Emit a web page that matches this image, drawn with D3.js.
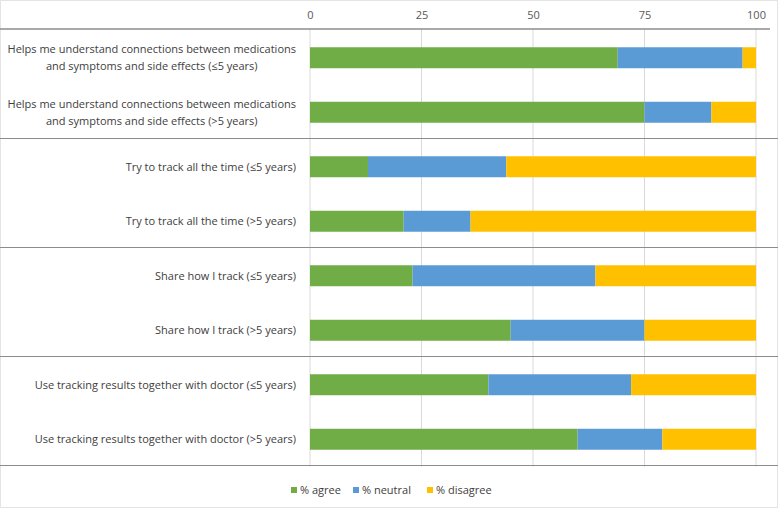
<!DOCTYPE html>
<html>
<head>
<meta charset="utf-8">
<script src="https://cdn.jsdelivr.net/npm/d3@7"></script>
<style>
  body { margin: 0; background: #fff; }
  text { font-family: "Open Sans", sans-serif; }
</style>
</head>
<body>
<div id="chart"></div>
<script>
// rows, top to bottom
const categories = [
  "Helps me understand connections between medications|and symptoms and side effects (≤5 years)",
  "Helps me understand connections between medications|and symptoms and side effects (>5 years)",
  "Try to track all the time (≤5 years)",
  "Try to track all the time (>5 years)",
  "Share how I track (≤5 years)",
  "Share how I track (>5 years)",
  "Use tracking results together with doctor (≤5 years)",
  "Use tracking results together with doctor (>5 years)"
];
const agree    = [69, 75, 13, 21, 23, 45, 40, 60];
const neutral  = [28, 15, 31, 15, 41, 30, 32, 19];
const disagree = [3, 10, 56, 64, 36, 25, 28, 21];
const seriesNames = ["% agree", "% neutral", "% disagree"];
const tickValues = [0, 25, 50, 75, 100];

const colors = ["#70ad47", "#5b9bd5", "#ffc000"];

const width = 778, height = 508;
const margin = {top: 30.5, right: 22, bottom: 41.5, left: 310};
const axisY = 29;

const svg = d3.select("#chart").append("svg")
    .attr("width", width)
    .attr("height", height);

svg.append("rect")
    .attr("x", 0.5).attr("y", 0.5)
    .attr("width", width - 1).attr("height", height - 1)
    .attr("fill", "#fff")
    .attr("stroke", "#e4e4e4");

const x = d3.scaleLinear()
    .domain([0, 100])
    .range([margin.left, width - margin.right]);

const y = d3.scaleBand()
    .domain(categories)
    .range([margin.top, height - margin.bottom])
    .paddingInner(0.615)
    .paddingOuter(0.3075);

// gridlines
svg.append("g")
  .selectAll("line")
  .data(tickValues)
  .join("line")
    .attr("x1", d => x(d)).attr("x2", d => x(d))
    .attr("y1", axisY).attr("y2", height - margin.bottom)
    .attr("stroke", "#d9d9d9")
    .attr("stroke-width", 1);

// top axis
svg.append("g")
    .attr("transform", `translate(0,${axisY})`)
    .call(d3.axisTop(x).tickValues(tickValues).tickSize(0).tickPadding(10))
    .call(g => g.select(".domain").remove())
    .call(g => g.selectAll(".tick text")
      .attr("fill", "#595959")
      .attr("font-size", 11)
      .style("font-family", "'Open Sans', sans-serif"));

svg.append("line")
    .attr("x1", 0).attr("x2", width - 8)
    .attr("y1", axisY).attr("y2", axisY)
    .attr("stroke", "#8c8c8c")
    .attr("stroke-width", 1.5);

// stacked bars
const stackData = categories.map((c, i) => ({cat: c, 0: agree[i], 1: neutral[i], 2: disagree[i]}));
const series = d3.stack().keys([0, 1, 2])(stackData);

svg.append("g")
  .selectAll("g")
  .data(series)
  .join("g")
    .attr("fill", (d, i) => colors[i])
  .selectAll("rect")
  .data(d => d)
  .join("rect")
    .attr("x", d => x(d[0]))
    .attr("width", d => x(d[1]) - x(d[0]))
    .attr("y", d => y(d.data.cat))
    .attr("height", y.bandwidth());

// group separators, every two rows
const step = y.step();
const groupLines = [2, 4, 6, 8].map(i => margin.top + i * step - 1);
svg.append("g")
  .selectAll("line")
  .data(groupLines)
  .join("line")
    .attr("x1", 0).attr("x2", width)
    .attr("y1", d => d).attr("y2", d => d)
    .attr("stroke", "#8c8c8c")
    .attr("stroke-width", 1.2);

// category labels
const labelRight = 296;
const labels = svg.append("g")
  .selectAll("text")
  .data(categories)
  .join("text")
    .attr("fill", "#404040")
    .attr("font-size", 11)
    .attr("text-anchor", "middle");

labels.each(function(d) {
  const lines = d.split("|");
  const t = d3.select(this);
  const cy = y(d) + y.bandwidth() / 2;
  lines.forEach((ln, j) => {
    t.append("tspan")
      .attr("y", cy + (j - (lines.length - 1) / 2) * 17)
      .attr("dy", "0.35em")
      .text(ln);
  });
  const w = d3.max(t.selectAll("tspan").nodes(), n => n.getComputedTextLength());
  t.selectAll("tspan").attr("x", labelRight - w / 2);
});

// legend
const legendX = [291, 353, 427];
const legend = svg.append("g")
  .selectAll("g")
  .data(seriesNames)
  .join("g")
    .attr("transform", (d, i) => `translate(${legendX[i]},490)`);

legend.append("rect")
    .attr("x", 0).attr("y", -3)
    .attr("width", 6).attr("height", 6)
    .attr("fill", (d, i) => colors[i]);

legend.append("text")
    .attr("x", 9)
    .attr("dy", "0.35em")
    .attr("fill", "#404040")
    .attr("font-size", 11)
    .text(d => d);
</script>
</body>
</html>
